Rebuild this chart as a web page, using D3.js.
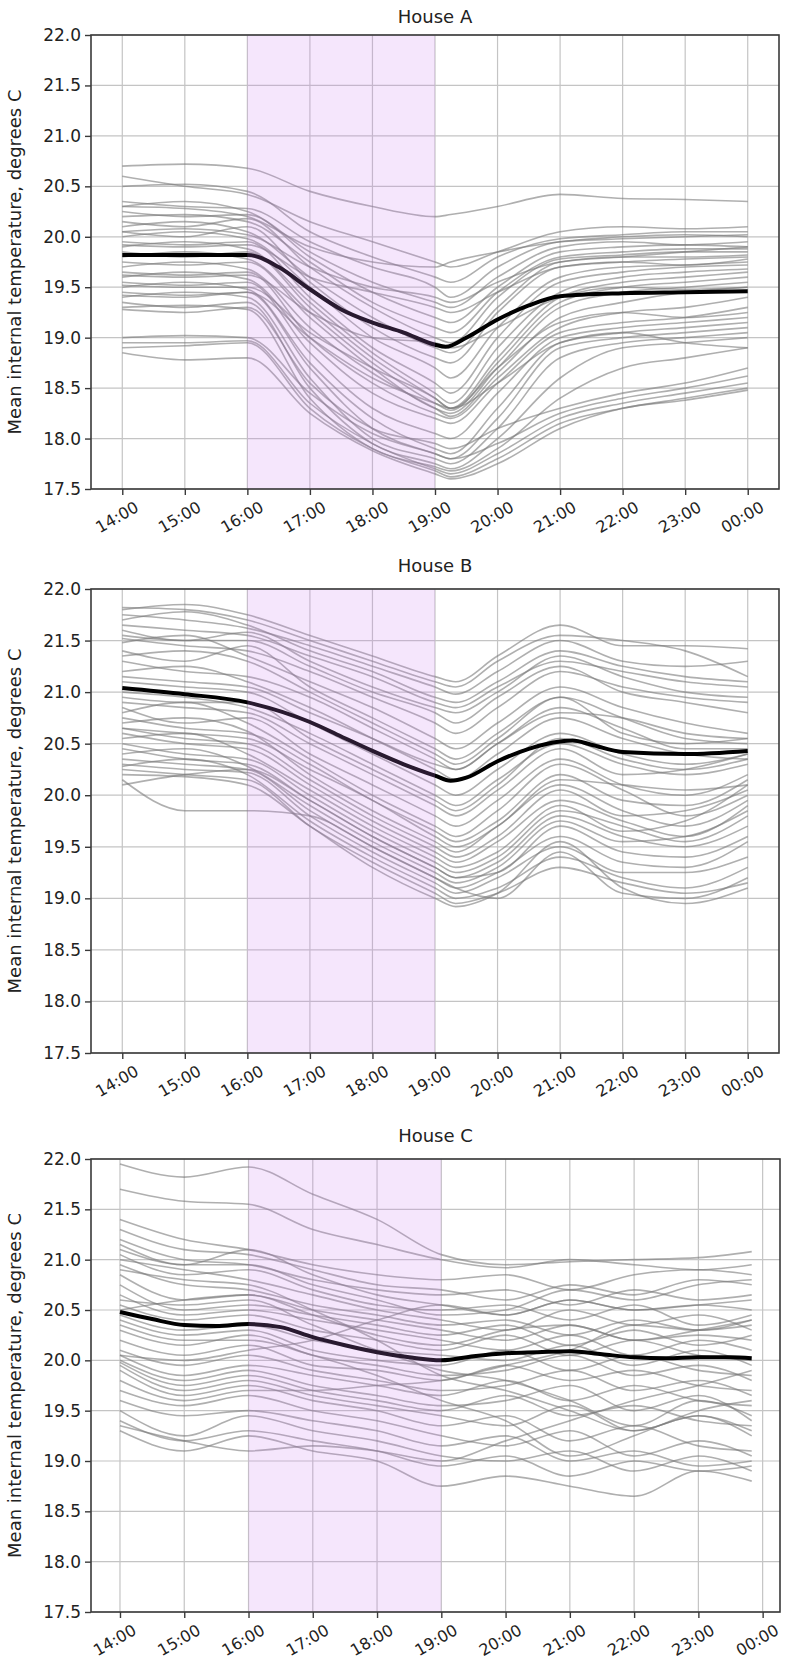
<!DOCTYPE html>
<html>
<head>
<meta charset="utf-8">
<script src="https://cdn.jsdelivr.net/npm/d3@7"></script>
<style>
  html, body { margin: 0; padding: 0; background: #ffffff; }
  svg { display: block; }
  text { font-family: "DejaVu Sans", sans-serif; fill: #222; }
</style>
</head>
<body>
<div id="chart"></div>
<script>
// ---------------- DATA ----------------
const titles = ["House A", "House B", "House C"];
const yLabel = "Mean internal temperature, degrees C";
const yTicks = [17.5, 18.0, 18.5, 19.0, 19.5, 20.0, 20.5, 21.0, 21.5, 22.0];
const xTickHours = [14, 15, 16, 17, 18, 19, 20, 21, 22, 23, 24];
const xTickLabels = ["14:00", "15:00", "16:00", "17:00", "18:00", "19:00", "20:00", "21:00", "22:00", "23:00", "00:00"];
const shadeStart = 16, shadeEnd = 19;

// House A
const timesA = [14, 15, 16, 17, 18, 19, 19.25, 20, 21, 22, 23, 24];
const linesA = [
  [20.70,20.72,20.68,20.45,20.30,20.20,20.22,20.30,20.42,20.38,20.37,20.35],
  [20.60,20.50,20.42,20.15,19.95,19.75,19.70,19.85,20.05,20.10,20.08,20.10],
  [20.50,20.52,20.45,20.05,19.80,19.60,19.55,19.80,19.98,20.02,20.05,20.05],
  [20.35,20.30,20.28,19.95,19.70,19.50,19.40,19.70,19.95,19.98,20.00,20.02],
  [20.30,20.35,20.25,19.85,19.55,19.35,19.30,19.60,19.90,19.95,19.92,19.95],
  [20.25,20.20,20.22,19.80,19.45,19.20,19.15,19.50,19.85,19.90,19.92,19.90],
  [20.20,20.22,20.15,19.75,19.35,19.10,19.05,19.45,19.80,19.85,19.88,19.88],
  [20.15,20.10,20.18,19.70,19.30,19.00,18.95,19.40,19.78,19.82,19.85,19.85],
  [20.10,20.15,20.05,19.60,19.20,18.90,18.85,19.30,19.75,19.80,19.80,19.82],
  [20.05,20.00,20.10,19.55,19.10,18.80,18.75,19.25,19.70,19.75,19.78,19.80],
  [20.00,20.05,19.98,19.50,19.00,18.70,18.60,19.10,19.60,19.70,19.72,19.75],
  [19.95,19.92,19.95,19.40,18.90,18.55,18.45,19.00,19.55,19.65,19.70,19.72],
  [19.90,19.95,19.88,19.35,18.85,18.45,18.35,18.90,19.45,19.60,19.65,19.68],
  [19.85,19.80,19.85,19.30,18.80,18.40,18.30,18.80,19.40,19.55,19.60,19.65],
  [19.80,19.85,19.78,19.25,18.75,18.35,18.28,18.75,19.35,19.50,19.55,19.60],
  [19.75,19.72,19.75,19.20,18.70,18.30,18.25,18.70,19.30,19.45,19.50,19.55],
  [19.70,19.75,19.68,19.10,18.65,18.30,18.22,18.65,19.20,19.35,19.45,19.50],
  [19.65,19.62,19.65,19.00,18.55,18.25,18.20,18.60,19.10,19.25,19.30,19.40],
  [19.60,19.65,19.58,18.95,18.45,18.20,18.15,18.55,19.05,19.15,19.20,19.30],
  [19.55,19.52,19.55,18.85,18.30,18.05,18.00,18.45,19.00,19.10,19.15,19.20],
  [19.50,19.55,19.48,18.75,18.20,17.90,17.85,18.30,18.95,19.05,19.10,19.15],
  [19.45,19.42,19.45,18.70,18.10,17.85,17.80,18.20,18.90,19.00,19.05,19.10],
  [19.40,19.45,19.40,18.60,18.00,17.80,17.75,18.10,18.80,18.95,19.00,19.05],
  [19.35,19.30,19.35,18.50,17.95,17.75,17.70,18.00,18.60,18.90,18.95,19.00],
  [19.30,19.32,19.28,18.40,17.90,17.72,17.68,17.90,18.40,18.70,18.80,18.90],
  [19.28,19.25,19.30,18.55,18.10,17.95,17.90,18.10,18.30,18.45,18.55,18.70],
  [19.00,19.02,19.00,18.45,18.05,17.85,17.80,17.95,18.25,18.40,18.50,18.62],
  [18.95,18.95,18.97,18.35,17.95,17.70,17.65,17.85,18.20,18.35,18.45,18.55],
  [18.90,18.92,18.95,18.30,17.90,17.68,17.62,17.80,18.15,18.30,18.40,18.50],
  [18.85,18.78,18.80,18.25,17.88,17.65,17.60,17.75,18.10,18.30,18.38,18.48],
  [20.05,20.08,20.02,19.70,19.50,19.40,19.35,19.55,19.75,19.80,19.85,19.90],
  [19.92,19.90,19.92,19.60,19.45,19.30,19.25,19.45,19.70,19.75,19.72,19.78],
  [19.62,19.60,19.62,19.25,19.00,18.95,18.90,19.10,19.40,19.50,19.48,19.50],
  [19.52,19.50,19.50,19.05,18.70,18.40,18.30,18.70,19.15,19.25,19.20,19.25],
  [20.30,20.28,20.20,19.90,19.75,19.70,19.75,19.85,19.95,20.00,20.02,20.00],
  [19.42,19.40,19.45,19.00,18.60,18.35,18.30,18.55,18.95,19.05,18.95,18.90]
];
const meanTimesA = [14,15,16,16.5,17,17.5,18,18.5,19,19.17,19.5,20,20.5,21,22,23,24];
const meanA = [19.82,19.82,19.82,19.70,19.48,19.28,19.15,19.05,18.93,18.91,19.00,19.18,19.32,19.41,19.44,19.45,19.46];

// House B
const timesB = [14, 15, 16, 17, 18, 19, 19.33, 20, 21, 22, 23, 24];
const linesB = [
  [21.80,21.85,21.75,21.55,21.35,21.15,21.10,21.35,21.65,21.45,21.45,21.42],
  [21.82,21.80,21.70,21.50,21.30,21.10,21.05,21.30,21.55,21.50,21.40,21.15],
  [21.75,21.70,21.62,21.45,21.25,21.05,20.98,21.20,21.50,21.30,21.25,21.30],
  [21.70,21.78,21.65,21.40,21.20,20.95,20.90,21.10,21.40,21.25,21.15,21.10],
  [21.65,21.60,21.55,21.35,21.15,20.90,20.85,21.05,21.30,21.20,21.10,21.05],
  [21.60,21.50,21.58,21.30,21.05,20.85,20.80,21.00,21.35,21.15,21.00,20.95],
  [21.52,21.45,21.40,21.20,20.95,20.70,20.60,20.85,21.20,21.05,20.95,20.90],
  [21.48,21.55,21.35,21.10,20.85,20.55,20.45,20.70,21.05,20.85,20.70,20.60],
  [21.40,21.30,21.45,21.05,20.75,20.45,20.35,20.60,20.95,20.75,20.55,20.50],
  [21.30,21.20,21.15,20.95,20.65,20.35,20.25,20.50,20.85,20.65,20.45,20.45],
  [21.20,21.25,21.10,20.85,20.55,20.25,20.15,20.40,20.75,20.55,20.40,20.35],
  [21.10,21.05,21.00,20.70,20.40,20.10,20.00,20.25,20.60,20.40,20.30,20.40],
  [21.00,20.95,20.85,20.60,20.30,20.00,19.90,20.15,20.50,20.30,20.20,20.30],
  [20.90,20.85,20.80,20.50,20.20,19.90,19.80,20.05,20.45,20.20,20.25,20.40],
  [20.85,20.70,20.75,20.40,20.10,19.80,19.70,19.95,20.35,20.10,20.00,20.20],
  [20.80,20.90,20.70,20.35,20.00,19.70,19.60,19.85,20.30,20.05,19.80,20.00],
  [20.75,20.65,20.60,20.30,19.95,19.65,19.55,19.75,20.20,19.95,19.90,20.15],
  [20.70,20.75,20.62,20.20,19.85,19.55,19.45,19.70,20.10,19.85,19.70,19.95],
  [20.65,20.55,20.50,20.15,19.80,19.50,19.40,19.60,20.05,19.80,19.85,20.05],
  [20.60,20.50,20.45,20.10,19.75,19.45,19.35,19.55,19.95,19.75,19.60,19.90],
  [20.55,20.60,20.40,20.05,19.70,19.40,19.30,19.45,19.90,19.65,19.75,20.10],
  [20.50,20.40,20.35,20.00,19.65,19.35,19.25,19.40,19.85,19.70,19.55,19.80],
  [20.45,20.35,20.30,19.95,19.60,19.30,19.20,19.35,19.80,19.60,19.50,19.70],
  [20.40,20.45,20.28,19.90,19.55,19.25,19.15,19.30,19.75,19.55,19.60,19.85],
  [20.35,20.30,20.25,19.85,19.50,19.20,19.10,19.25,19.60,19.35,19.30,19.55],
  [20.30,20.25,20.22,19.80,19.45,19.15,19.05,19.20,19.50,19.25,19.25,19.40],
  [20.28,20.35,20.20,19.75,19.40,19.10,19.00,19.10,19.40,19.20,19.10,19.30],
  [20.25,20.20,20.15,19.70,19.35,19.05,18.95,19.05,19.30,19.15,19.05,19.15],
  [20.20,20.18,20.10,19.70,19.30,19.00,18.92,19.05,19.55,19.10,18.95,19.10],
  [20.15,19.85,19.85,19.80,19.50,19.20,19.10,19.00,19.45,19.05,19.00,19.20],
  [21.15,21.10,21.05,20.80,20.55,20.30,20.25,20.50,20.80,20.75,20.60,20.55],
  [20.65,20.60,20.55,20.25,19.95,19.60,19.50,19.70,20.15,20.10,20.05,20.10],
  [21.35,21.40,21.30,21.00,20.70,20.40,20.30,20.55,20.95,20.60,20.50,20.55],
  [20.95,20.90,20.90,20.55,20.25,19.95,19.85,20.10,20.55,20.35,20.25,20.35],
  [21.55,21.50,21.50,21.25,21.00,20.80,20.70,20.95,21.25,21.00,20.90,20.80],
  [20.10,20.20,20.25,19.95,19.60,19.30,19.20,19.25,19.70,19.45,19.40,19.60]
];
const meanTimesB = [14,15,16,17,17.5,18,18.5,19,19.25,19.5,20,20.5,21,21.2,21.5,22,23,24];
const meanB = [21.04,20.98,20.90,20.71,20.57,20.43,20.30,20.19,20.14,20.17,20.33,20.45,20.52,20.53,20.49,20.42,20.40,20.43];

// House C
const timesC = [14, 15, 16, 17, 18, 19, 20, 21, 22, 23, 23.83];
const linesC = [
  [21.95,21.82,21.92,21.65,21.40,21.05,20.95,20.98,21.00,21.02,21.08],
  [21.70,21.58,21.55,21.30,21.15,21.00,20.92,21.00,20.95,20.90,20.95],
  [21.40,21.20,21.10,20.95,20.85,20.80,20.85,20.70,20.85,20.90,20.85],
  [21.30,21.10,21.05,20.90,20.75,20.70,20.60,20.75,20.65,20.80,20.75],
  [21.20,21.00,20.95,20.80,20.70,20.65,20.70,20.55,20.70,20.60,20.65],
  [21.10,20.95,21.10,20.85,20.65,20.55,20.45,20.60,20.50,20.55,20.50],
  [21.05,20.85,20.90,20.70,20.55,20.50,20.55,20.40,20.55,20.35,20.45],
  [21.00,20.90,20.80,20.65,20.50,20.40,20.30,20.50,20.35,20.45,20.30],
  [20.95,20.75,20.70,20.55,20.45,20.35,20.40,20.25,20.40,20.30,20.35],
  [20.85,20.60,20.65,20.50,20.40,20.30,20.20,20.35,20.20,20.25,20.20],
  [20.75,20.50,20.55,20.45,20.35,20.25,20.35,20.15,20.30,20.15,20.25],
  [20.65,20.45,20.50,20.40,20.30,20.20,20.10,20.25,20.05,20.20,20.10],
  [20.55,20.40,20.45,20.30,20.20,20.10,20.25,20.05,20.20,20.05,20.00],
  [20.45,20.30,20.35,20.20,20.10,20.05,20.00,20.15,19.95,20.10,19.95],
  [20.40,20.25,20.30,20.10,20.00,19.95,20.10,19.90,20.05,19.90,19.85],
  [20.30,20.15,20.25,20.05,19.95,19.85,19.90,20.05,19.85,19.95,19.80],
  [20.20,20.05,20.15,19.95,19.90,19.80,19.95,19.80,19.90,19.75,19.70],
  [20.10,19.95,20.05,19.90,19.80,19.70,19.75,19.90,19.70,19.80,19.65],
  [20.05,19.85,19.95,19.85,19.75,19.65,19.80,19.60,19.75,19.60,19.55],
  [20.00,19.80,19.90,19.75,19.65,19.55,19.60,19.75,19.50,19.65,19.40],
  [19.98,19.75,19.85,19.70,19.60,19.50,19.65,19.45,19.55,19.40,19.35],
  [19.95,19.70,19.80,19.65,19.55,19.45,19.35,19.55,19.30,19.45,19.25],
  [19.90,19.65,19.75,19.60,19.50,19.35,19.45,19.20,19.35,19.15,19.10],
  [19.70,19.55,19.65,19.50,19.40,19.25,19.15,19.30,19.05,19.20,19.05],
  [19.60,19.45,19.50,19.40,19.30,19.15,19.25,19.00,19.10,18.95,19.00],
  [19.50,19.25,19.45,19.30,19.20,19.05,19.00,19.10,18.90,19.05,18.90],
  [19.40,19.20,19.30,19.20,19.10,18.95,19.05,18.85,19.00,18.90,18.95],
  [19.30,19.10,19.25,19.10,19.00,18.75,18.85,18.75,18.65,18.90,18.80],
  [20.50,20.60,20.65,20.45,20.25,20.15,20.30,20.35,20.20,20.30,20.40],
  [20.05,20.00,20.10,20.20,20.40,20.55,20.45,20.60,20.50,20.55,20.60],
  [20.90,20.80,20.75,20.50,20.20,19.85,19.70,19.50,19.30,19.45,19.30],
  [19.80,19.60,19.70,19.70,19.75,19.80,19.95,20.10,20.35,20.30,20.40],
  [20.60,20.55,20.60,20.35,20.10,19.90,19.80,19.60,19.35,19.60,19.45],
  [19.35,19.20,19.10,19.15,19.10,19.00,19.20,19.40,19.60,19.75,19.90],
  [21.15,20.95,20.95,20.75,20.60,20.45,20.50,20.70,20.60,20.75,20.80],
  [20.35,20.20,20.20,20.05,19.85,19.60,19.40,19.05,19.25,19.50,19.60]
];
const meanTimesC = [14,14.5,15,15.5,16,16.5,17,17.5,18,18.5,19,19.5,20,20.5,21,21.5,22,22.5,23,23.5,23.83];
const meanC = [20.48,20.41,20.35,20.34,20.36,20.33,20.23,20.15,20.08,20.03,20.00,20.04,20.07,20.08,20.09,20.06,20.03,20.02,20.03,20.03,20.02];

// ---------------- LAYOUT ----------------
const W = 787, H = 1671;
const panels = [
  { title: titles[0], times: timesA, lines: linesA, meanT: meanTimesA, mean: meanA,
    left: 91, right: 779, top: 35, bottom: 489, xDomain: [13.5, 24.5], titleY: 23 },
  { title: titles[1], times: timesB, lines: linesB, meanT: meanTimesB, mean: meanB,
    left: 91, right: 779, top: 589, bottom: 1053, xDomain: [13.5, 24.5], titleY: 572 },
  { title: titles[2], times: timesC, lines: linesC, meanT: meanTimesC, mean: meanC,
    left: 91, right: 780, top: 1159, bottom: 1612, xDomain: [13.549, 24.27], titleY: 1142 }
];

const svg = d3.select("#chart").append("svg")
  .attr("width", W).attr("height", H)
  .attr("viewBox", `0 0 ${W} ${H}`);
svg.append("rect").attr("width", W).attr("height", H).attr("fill", "#fff");

panels.forEach((p, pi) => {
  const x = d3.scaleLinear().domain(p.xDomain).range([p.left, p.right]);
  const y = d3.scaleLinear().domain([17.5, 22.0]).range([p.bottom, p.top]);
  const g = svg.append("g");

  const clipId = "clip" + pi;
  svg.append("clipPath").attr("id", clipId).append("rect")
    .attr("x", p.left).attr("y", p.top)
    .attr("width", p.right - p.left).attr("height", p.bottom - p.top);

  // grid
  const grid = g.append("g").attr("stroke", "#c4c4c4").attr("stroke-width", 1.2);
  grid.selectAll("line.gx").data(xTickHours).join("line")
    .attr("x1", d => x(d)).attr("x2", d => x(d))
    .attr("y1", p.top).attr("y2", p.bottom);
  grid.selectAll("line.gy").data(yTicks).join("line")
    .attr("x1", p.left).attr("x2", p.right)
    .attr("y1", d => y(d)).attr("y2", d => y(d));

  const plot = g.append("g").attr("clip-path", `url(#${clipId})`);

  const lineGen = d3.line()
    .x((d, i) => x(p.times[i]))
    .y(d => y(d))
    .curve(d3.curveMonotoneX);

  plot.append("g").selectAll("path").data(p.lines).join("path")
    .attr("d", lineGen)
    .attr("fill", "none")
    .attr("stroke", "#7a7a7a")
    .attr("stroke-opacity", 0.6)
    .attr("stroke-width", 1.6);

  const meanGen = d3.line()
    .x((d, i) => x(p.meanT[i]))
    .y(d => y(d))
    .curve(d3.curveMonotoneX);
  plot.append("path").datum(p.mean)
    .attr("d", meanGen)
    .attr("fill", "none")
    .attr("stroke", "#000")
    .attr("stroke-width", 4)
    .attr("stroke-linejoin", "round");

  // shaded period (drawn on top, translucent)
  plot.append("rect")
    .attr("x", x(shadeStart)).attr("y", p.top)
    .attr("width", x(shadeEnd) - x(shadeStart))
    .attr("height", p.bottom - p.top)
    .attr("fill", "#cc80ee")
    .attr("fill-opacity", 0.2);

  // frame
  g.append("rect")
    .attr("x", p.left).attr("y", p.top)
    .attr("width", p.right - p.left).attr("height", p.bottom - p.top)
    .attr("fill", "none").attr("stroke", "#3a3a3a").attr("stroke-width", 1.6);

  // y axis
  const yAxis = g.append("g").attr("transform", `translate(${p.left},0)`)
    .call(d3.axisLeft(y).tickValues(yTicks).tickFormat(d3.format(".1f")).tickSize(6).tickPadding(4));
  yAxis.select(".domain").remove();
  yAxis.selectAll(".tick line").attr("stroke", "#3a3a3a").attr("stroke-width", 1.4);
  yAxis.selectAll(".tick text").attr("font-size", 17).attr("fill", "#222")
    .attr("font-family", "DejaVu Sans, sans-serif");

  // x axis
  const xAxis = g.append("g").attr("transform", `translate(0,${p.bottom})`)
    .call(d3.axisBottom(x).tickValues(xTickHours)
      .tickFormat((d, i) => xTickLabels[i]).tickSize(6));
  xAxis.select(".domain").remove();
  xAxis.selectAll(".tick line").attr("stroke", "#3a3a3a").attr("stroke-width", 1.4);
  xAxis.selectAll(".tick text")
    .attr("font-size", 16).attr("fill", "#222")
    .attr("font-family", "DejaVu Sans, sans-serif")
    .attr("text-anchor", "end")
    .attr("x", 0).attr("y", 0).attr("dy", "0.75em")
    .attr("transform", "translate(11,11) rotate(-30)");

  // title
  g.append("text")
    .attr("x", (p.left + p.right) / 2).attr("y", p.titleY)
    .attr("text-anchor", "middle")
    .attr("font-size", 18)
    .text(p.title);

  // y label
  g.append("text")
    .attr("transform", `translate(21,${(p.top + p.bottom) / 2}) rotate(-90)`)
    .attr("text-anchor", "middle")
    .attr("font-size", 18)
    .text(yLabel);
});
</script>
</body>
</html>
